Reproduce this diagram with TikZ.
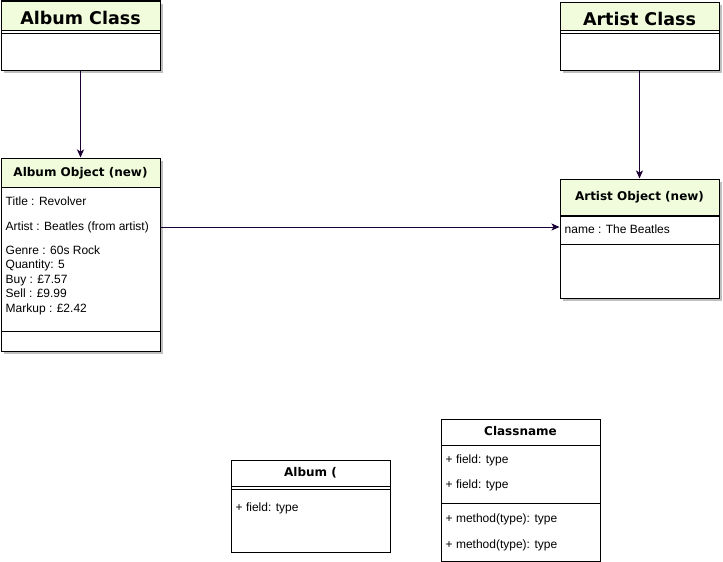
\documentclass[tikz,border=0pt]{standalone}
\usepackage{fontspec}
\setmainfont{Liberation Sans}
\newfontfamily\headfont{DejaVu Sans}
\usetikzlibrary{positioning,shadows,arrows.meta}
\definecolor{headgreen}{RGB}{240,252,220}
\definecolor{linkcolor}{RGB}{26,0,51}

\begin{document}
\begin{tikzpicture}[x=1pt,y=-1pt]
\tikzstyle{umlbox}=[draw, fill=white, line width=1pt, inner sep=0pt, minimum width=159pt]
\tikzstyle{shadowed}=[drop shadow={shadow xshift=3pt, shadow yshift=-3pt, fill=black!25, opacity=1}]
\tikzstyle{umlhead}=[umlbox, fill=headgreen, text height=0.73em, text depth=0pt, font=\headfont\bfseries\fontsize{12}{14}\selectfont]
\tikzstyle{bighead}=[umlhead, text height=18pt, font=\headfont\bfseries\fontsize{17.5}{20}\selectfont]
\tikzstyle{plainhead}=[umlhead, fill=white]
\tikzstyle{umlpart}=[umlbox]
\tikzstyle{field}=[inner sep=0pt, anchor=west, xshift=5pt, text height=9pt, text depth=3pt, font=\fontsize{12}{14}\selectfont]
\tikzstyle{link}=[draw=linkcolor, line width=1pt, -{Stealth[length=8pt,width=7pt,inset=2pt]}]
\useasboundingbox (0,0) rectangle (723,562);

% classes
\node[umlbox, shadowed, minimum height=69pt] (albumcls) at (80.5,35.5) {};
\node[bighead, minimum height=29pt, below=0pt of albumcls.north] (albumclshead) {Album Class};
\draw[line width=1pt] ([yshift=-3pt]albumclshead.south west) -- ([yshift=-3pt]albumclshead.south east);

\node[umlbox, shadowed, minimum height=68pt] (artistcls) at (639.5,36) {};
\node[bighead, minimum height=28pt, below=0pt of artistcls.north] (artistclshead) {Artist Class};
\draw[line width=1pt] ([yshift=-3pt]artistclshead.south west) -- ([yshift=-3pt]artistclshead.south east);

% objects
\node[umlbox, shadowed, minimum height=193pt] (albumobj) at (80.5,254.5) {};
\node[umlhead, minimum height=29pt, below=0pt of albumobj.north] (albumobjhead) {Album Object (new)};
\node[umlpart, minimum height=20pt, above=0pt of albumobj.south] (albumobjops) {};
\node[field] (albumtitle) at (albumobj.west |- 0,202) {Title : Revolver};
\node[field] (albumartist) at (albumobj.west |- 0,227) {Artist : Beatles (from artist)};
\node[field] (albumgenre) at (albumobj.west |- 0,251) {Genre : 60s Rock};
\node[field] (albumqty) at (albumobj.west |- 0,265.5) {Quantity: 5};
\node[field] (albumbuy) at (albumobj.west |- 0,280) {Buy : £7.57};
\node[field] (albumsell) at (albumobj.west |- 0,294.5) {Sell : £9.99};
\node[field] (albummarkup) at (albumobj.west |- 0,309) {Markup : £2.42};

\node[umlbox, shadowed, minimum height=119pt] (artistobj) at (639.5,238.5) {};
\node[umlhead, minimum height=36pt, below=0pt of artistobj.north] (artistobjhead) {Artist Object (new)};
\node[umlpart, minimum height=28pt, below=0pt of artistobjhead] (artistobjattr) {};
\node[field] (artistname) at (artistobjattr.west) {name : The Beatles};

% templates
\node[umlbox, minimum height=92pt] (albumtpl) at (310.5,506) {};
\node[plainhead, minimum height=26pt, below=0pt of albumtpl.north] (albumtplhead) {Album (};
\draw[line width=1pt] ([yshift=-3pt]albumtplhead.south west) -- ([yshift=-3pt]albumtplhead.south east);
\node[field] (albumtplfield) at (albumtpl.west |- 0,508) {+ field: type};

\node[umlbox, minimum height=142pt] (classtpl) at (520.5,490) {};
\node[plainhead, minimum height=26pt, below=0pt of classtpl.north] (classtplhead) {Classname};
\node[umlpart, minimum height=58pt, above=0pt of classtpl.south] (classtplops) {};
\node[field] (classfieldone) at (classtpl.west |- 0,460) {+ field: type};
\node[field] (classfieldtwo) at (classtpl.west |- 0,485) {+ field: type};
\node[field] (classmethodone) at (classtpl.west |- 0,519) {+ method(type): type};
\node[field] (classmethodtwo) at (classtpl.west |- 0,545) {+ method(type): type};

% links
\draw[link] (albumcls) -- (albumobj);
\draw[link] (artistcls) -- (artistobj);
\draw[link] (albumobj.east |- albumartist) -- (artistobj.west |- albumartist);
\end{tikzpicture}
\end{document}
